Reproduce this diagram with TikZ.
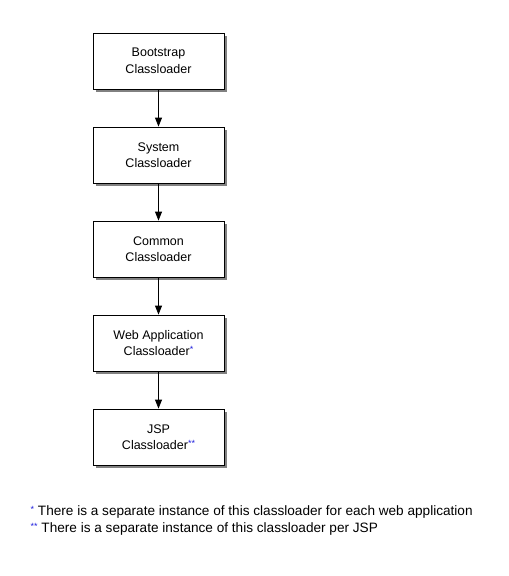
\documentclass[tikz,border=0pt]{standalone}
\usepackage{fontspec}
\setmainfont{Liberation Sans}
\usetikzlibrary{arrows.meta,shadows}
\definecolor{starblue}{HTML}{2222DD}
\newcommand{\bluestar}[1]{\textcolor{starblue}{\fontsize{9}{9}\selectfont\raisebox{3pt}{#1}}}
\begin{document}
\begin{tikzpicture}[x=1pt,y=-1pt,
  loader/.style={draw=black, line width=0.8pt, fill=white, minimum width=131pt, minimum height=56pt,
    align=center, font=\fontsize{12.5}{16.5}\selectfont,
    drop shadow={shadow xshift=3pt, shadow yshift=-3pt, fill=black!55, opacity=0.9}},
  link/.style={draw=black, line width=0.8pt, -{Triangle[length=9pt,width=7pt]}},
  note/.style={anchor=base west, inner sep=0pt, font=\fontsize{13.6}{16.5}\selectfont}]
\useasboundingbox (0,0) rectangle (509,576);
\node[loader] (boot) at (158.5,61) {Bootstrap\\Classloader};
\node[loader] (sys) at (158.5,155) {System\\Classloader};
\node[loader] (com) at (158.5,249) {Common\\Classloader};
\node[loader] (web) at (158.5,343) {Web Application\\Classloader\bluestar{*}};
\node[loader] (jsp) at (158.5,437) {JSP\\Classloader\bluestar{**}};
\draw[link] (boot) -- (sys);
\draw[link] (sys) -- (com);
\draw[link] (com) -- (web);
\draw[link] (web) -- (jsp);
\node[note] (n1) at (30.5,515.7) {\bluestar{*} There is a separate instance of this classloader for each web application};
\node[note] (n2) at (30.5,532) {\bluestar{**} There is a separate instance of this classloader per JSP};
\end{tikzpicture}
\end{document}
